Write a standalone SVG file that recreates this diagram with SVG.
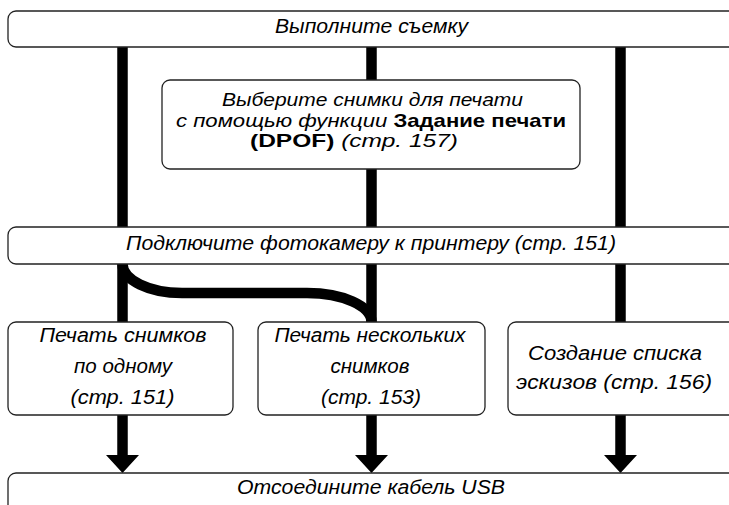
<svg xmlns="http://www.w3.org/2000/svg" width="729" height="505" viewBox="0 0 729 505">
<defs>
<style>
.box{fill:#fff;stroke:#222;stroke-width:1.3}
.t{font-family:"Liberation Sans",Arial,sans-serif;font-size:19.5px;font-style:italic;fill:#000;text-anchor:middle}
.s{font-size:18.5px}
.st{text-anchor:start}
.b{font-weight:bold;font-style:normal}
.ln{fill:none;stroke:#000;stroke-width:10.5}
.ah{fill:#000}
</style>
</defs>
<rect width="729" height="505" fill="#fff"/>
<g id="connectors">
<path class="ln" d="M122.5,47V227M371.5,47V80M371.5,169V227M620.5,47V227"/>
<path class="ln" d="M122.5,264V322M371.5,264V322M620.5,264V322"/>
<path class="ln" d="M122.5,264A60,29 0 0 0 182,293H307A64.5,29 0 0 1 371.5,322"/>
<path class="ln" d="M122.5,415V456M371.5,415V456M620.5,415V456"/>
<path class="ah" d="M106,455H139L122.5,473ZM355,455H388L371.5,473ZM604,455H637L620.5,473Z"/>
</g>
<g id="n1"><rect class="box" x="8" y="11" width="740" height="36" rx="8"/><text class="t" x="371.5" y="33" textLength="193" lengthAdjust="spacingAndGlyphs">Выполните съемку</text></g>
<g id="n2"><rect class="box" x="162" y="80" width="418" height="89" rx="8"/>
<text class="t s" x="372.5" y="106" textLength="301" lengthAdjust="spacingAndGlyphs">Выберите снимки для печати</text>
<text class="t s" x="371" y="126.5" textLength="390" lengthAdjust="spacingAndGlyphs">с помощью функции <tspan class="b">Задание печати</tspan></text>
<text class="t s st" x="250" y="147" textLength="208" lengthAdjust="spacingAndGlyphs"><tspan class="b">(DPOF)</tspan> (стр. 157)</text></g>
<g id="n3"><rect class="box" x="8" y="227" width="740" height="37" rx="8"/><text class="t" x="371" y="250" textLength="490" lengthAdjust="spacingAndGlyphs">Подключите фотокамеру к принтеру (стр. 151)</text></g>
<g id="n4"><rect class="box" x="8" y="322" width="225" height="93" rx="8"/>
<text class="t" x="123" y="342" textLength="167" lengthAdjust="spacingAndGlyphs">Печать снимков</text>
<text class="t" x="123" y="373" textLength="98" lengthAdjust="spacingAndGlyphs">по одному</text>
<text class="t" x="122.5" y="404" textLength="104" lengthAdjust="spacingAndGlyphs">(стр. 151)</text></g>
<g id="n5"><rect class="box" x="258" y="322" width="227" height="93" rx="8"/>
<text class="t" x="370" y="342" textLength="191" lengthAdjust="spacingAndGlyphs">Печать нескольких</text>
<text class="t" x="370" y="373" textLength="79" lengthAdjust="spacingAndGlyphs">снимков</text>
<text class="t" x="371" y="404" textLength="100" lengthAdjust="spacingAndGlyphs">(стр. 153)</text></g>
<g id="n6"><rect class="box" x="508" y="322" width="240" height="93" rx="8"/>
<text class="t" x="615" y="360" textLength="174" lengthAdjust="spacingAndGlyphs">Создание списка</text>
<text class="t" x="614" y="389" textLength="196" lengthAdjust="spacingAndGlyphs">эскизов (стр. 156)</text></g>
<g id="n7"><rect class="box" x="8" y="473" width="740" height="50" rx="8"/><text class="t" x="371" y="494" textLength="268" lengthAdjust="spacingAndGlyphs">Отсоедините кабель USB</text></g>
</svg>
